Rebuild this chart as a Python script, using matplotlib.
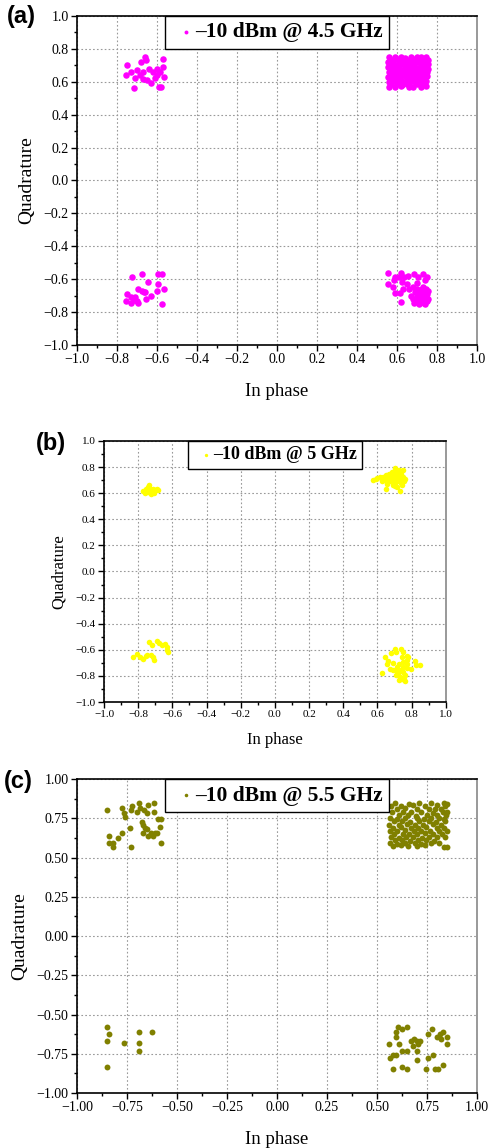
import numpy as np
import matplotlib.pyplot as plt
from matplotlib.ticker import MultipleLocator, AutoMinorLocator, FuncFormatter

plt.rcParams['font.family'] = ['Liberation Serif', 'DejaVu Serif']

# ---- panel (a): -10 dBm @ 4.5 GHz ----
a_ul = [(-0.752, 0.70), (-0.755, 0.64), (-0.71, 0.62), (-0.715, 0.56), (-0.66, 0.75),
        (-0.68, 0.72), (-0.70, 0.67), (-0.67, 0.66), (-0.64, 0.68), (-0.62, 0.66),
        (-0.60, 0.68), (-0.57, 0.74), (-0.57, 0.69), (-0.585, 0.66), (-0.565, 0.63),
        (-0.58, 0.57), (-0.59, 0.57), (-0.63, 0.59), (-0.65, 0.61), (-0.67, 0.615),
        (-0.685, 0.64), (-0.61, 0.62), (-0.73, 0.66), (-0.655, 0.73), (-0.60, 0.64)]
a_ur = [(0.56, 0.75), (0.59, 0.748), (0.62, 0.752), (0.64, 0.746), (0.67, 0.75), (0.70, 0.748), (0.72, 0.752), (0.745, 0.75),
        (0.57, 0.735), (0.60, 0.737), (0.63, 0.733), (0.66, 0.735), (0.69, 0.736), (0.71, 0.734), (0.74, 0.735), (0.755, 0.733),
        (0.555, 0.72), (0.58, 0.722), (0.61, 0.718), (0.65, 0.72), (0.68, 0.721), (0.70, 0.719), (0.73, 0.72), (0.75, 0.722),
        (0.565, 0.705), (0.60, 0.703), (0.62, 0.707), (0.645, 0.705), (0.67, 0.704), (0.72, 0.706), (0.74, 0.705), (0.755, 0.707),
        (0.555, 0.69), (0.585, 0.692), (0.61, 0.688), (0.64, 0.69), (0.66, 0.691), (0.69, 0.689), (0.715, 0.69), (0.745, 0.692),
        (0.57, 0.675), (0.60, 0.677), (0.63, 0.673), (0.655, 0.675), (0.68, 0.676), (0.71, 0.674), (0.73, 0.675), (0.755, 0.677),
        (0.56, 0.66), (0.59, 0.662), (0.615, 0.658), (0.645, 0.66), (0.675, 0.661), (0.70, 0.659), (0.725, 0.66), (0.75, 0.662),
        (0.575, 0.645), (0.60, 0.647), (0.63, 0.643), (0.66, 0.645), (0.685, 0.646), (0.715, 0.644), (0.74, 0.645),
        (0.555, 0.63), (0.585, 0.632), (0.61, 0.628), (0.645, 0.63), (0.67, 0.631), (0.70, 0.629), (0.725, 0.63), (0.75, 0.632),
        (0.565, 0.615), (0.595, 0.617), (0.62, 0.613), (0.655, 0.615), (0.68, 0.616), (0.71, 0.614), (0.735, 0.615),
        (0.56, 0.60), (0.58, 0.602), (0.61, 0.598), (0.64, 0.60), (0.665, 0.601), (0.69, 0.599), (0.72, 0.60), (0.745, 0.602),
        (0.57, 0.585), (0.60, 0.587), (0.625, 0.583), (0.65, 0.585), (0.70, 0.586), (0.73, 0.584),
        (0.56, 0.57), (0.59, 0.568), (0.62, 0.572), (0.66, 0.57), (0.68, 0.568), (0.72, 0.57), (0.745, 0.572)]
a_ll = [(-0.727, -0.589), (-0.677, -0.568), (-0.597, -0.568), (-0.575, -0.568), (-0.643, -0.619),
        (-0.593, -0.629), (-0.563, -0.66), (-0.598, -0.67), (-0.693, -0.66), (-0.677, -0.67),
        (-0.665, -0.68), (-0.632, -0.70), (-0.657, -0.72), (-0.748, -0.69), (-0.732, -0.706),
        (-0.71, -0.71), (-0.698, -0.73), (-0.755, -0.73), (-0.732, -0.747), (-0.693, -0.747),
        (-0.573, -0.749), (-0.717, -0.727), (-0.66, -0.675)]
a_lr = [(0.557, -0.56), (0.557, -0.629), (0.582, -0.645), (0.59, -0.682), (0.615, -0.682),
        (0.618, -0.741), (0.59, -0.585), (0.587, -0.605), (0.612, -0.585), (0.62, -0.56),
        (0.623, -0.619), (0.637, -0.585), (0.657, -0.58), (0.652, -0.629), (0.682, -0.645),
        (0.687, -0.568), (0.707, -0.585), (0.698, -0.621), (0.732, -0.568), (0.752, -0.585),
        (0.74, -0.605), (0.632, -0.662), (0.66, -0.66), (0.67, -0.70), (0.68, -0.72),
        (0.685, -0.745), (0.69, -0.68), (0.70, -0.66), (0.70, -0.70), (0.705, -0.73),
        (0.71, -0.75), (0.715, -0.67), (0.72, -0.69), (0.72, -0.715), (0.725, -0.74),
        (0.73, -0.65), (0.73, -0.70), (0.735, -0.725), (0.74, -0.68), (0.74, -0.75),
        (0.745, -0.66), (0.745, -0.71), (0.75, -0.69), (0.75, -0.735), (0.755, -0.67),
        (0.755, -0.72), (0.69, -0.73), (0.71, -0.70), (0.725, -0.66), (0.735, -0.745)]

# ---- panel (b): -10 dBm @ 5 GHz ----
b_ul = [(-0.77, 0.62), (-0.76, 0.605), (-0.755, 0.63), (-0.745, 0.645), (-0.74, 0.61),
        (-0.735, 0.665), (-0.73, 0.625), (-0.725, 0.59), (-0.72, 0.615), (-0.715, 0.635),
        (-0.71, 0.60), (-0.70, 0.625), (-0.69, 0.63), (-0.685, 0.625), (-0.735, 0.64), (-0.75, 0.615)]
b_ur = [(0.575, 0.70), (0.59, 0.705), (0.60, 0.715), (0.614, 0.725), (0.63, 0.72), (0.625, 0.695),
        (0.64, 0.70), (0.65, 0.74), (0.655, 0.67), (0.66, 0.71), (0.67, 0.75), (0.675, 0.69),
        (0.68, 0.73), (0.685, 0.76), (0.69, 0.665), (0.69, 0.70), (0.695, 0.745), (0.70, 0.795),
        (0.70, 0.72), (0.705, 0.68), (0.71, 0.76), (0.71, 0.705), (0.715, 0.65), (0.72, 0.735),
        (0.72, 0.69), (0.725, 0.775), (0.73, 0.715), (0.73, 0.615), (0.735, 0.675), (0.74, 0.75),
        (0.74, 0.70), (0.745, 0.66), (0.75, 0.78), (0.75, 0.72), (0.755, 0.69), (0.76, 0.705),
        (0.65, 0.63), (0.68, 0.71), (0.70, 0.74), (0.715, 0.72), (0.705, 0.655), (0.725, 0.755)]
b_ll = [(-0.832, -0.653), (-0.809, -0.635), (-0.789, -0.653), (-0.774, -0.668), (-0.754, -0.648),
        (-0.747, -0.637), (-0.735, -0.538), (-0.721, -0.563), (-0.727, -0.640), (-0.715, -0.657),
        (-0.708, -0.678), (-0.688, -0.533), (-0.677, -0.550), (-0.663, -0.563), (-0.643, -0.558),
        (-0.633, -0.576), (-0.630, -0.602), (-0.624, -0.62)]
b_lr = [(0.624, -0.78), (0.643, -0.658), (0.653, -0.709), (0.663, -0.684), (0.682, -0.628),
        (0.702, -0.595), (0.711, -0.62), (0.692, -0.704), (0.673, -0.75), (0.692, -0.755),
        (0.711, -0.755), (0.727, -0.709), (0.735, -0.595), (0.741, -0.653), (0.747, -0.62),
        (0.72, -0.78), (0.73, -0.806), (0.741, -0.826), (0.727, -0.832), (0.75, -0.768),
        (0.76, -0.793), (0.76, -0.837), (0.747, -0.73), (0.77, -0.742), (0.77, -0.678),
        (0.774, -0.645), (0.78, -0.658), (0.77, -0.709), (0.75, -0.69), (0.799, -0.75),
        (0.819, -0.684), (0.825, -0.717), (0.848, -0.717), (0.715, -0.73), (0.735, -0.755),
        (0.755, -0.806), (0.708, -0.793)]

# ---- panel (c): -10 dBm @ 5.5 GHz ----
c_ul = [(-0.852, 0.802), (-0.838, 0.637), (-0.838, 0.594), (-0.818, 0.594), (-0.822, 0.565),
        (-0.793, 0.622), (-0.777, 0.654), (-0.777, 0.817), (-0.765, 0.786), (-0.76, 0.76),
        (-0.735, 0.686), (-0.732, 0.565), (-0.727, 0.828), (-0.732, 0.802), (-0.702, 0.788),
        (-0.688, 0.845), (-0.685, 0.817), (-0.677, 0.728), (-0.668, 0.707), (-0.672, 0.654),
        (-0.663, 0.802), (-0.652, 0.781), (-0.643, 0.834), (-0.66, 0.686), (-0.643, 0.637),
        (-0.632, 0.658), (-0.622, 0.637), (-0.615, 0.845), (-0.615, 0.792), (-0.61, 0.658),
        (-0.602, 0.658), (-0.593, 0.743), (-0.582, 0.743), (-0.585, 0.696), (-0.582, 0.594),
        (-0.652, 0.679)]
c_ur = [(0.59, 0.845), (0.66, 0.842), (0.71, 0.848), (0.77, 0.845), (0.835, 0.85), (0.85, 0.84),
        (0.57, 0.83), (0.62, 0.826), (0.68, 0.833), (0.74, 0.828), (0.80, 0.832), (0.84, 0.826),
        (0.60, 0.81), (0.64, 0.813), (0.70, 0.806), (0.76, 0.812), (0.79, 0.808), (0.82, 0.81),
        (0.575, 0.79), (0.63, 0.787), (0.67, 0.793), (0.72, 0.79), (0.78, 0.786), (0.83, 0.792), (0.85, 0.79),
        (0.61, 0.77), (0.655, 0.773), (0.695, 0.767), (0.75, 0.77), (0.80, 0.774), (0.845, 0.768),
        (0.565, 0.75), (0.60, 0.747), (0.64, 0.753), (0.70, 0.75), (0.735, 0.746), (0.77, 0.752), (0.81, 0.75), (0.835, 0.748),
        (0.585, 0.73), (0.625, 0.733), (0.665, 0.727), (0.71, 0.73), (0.76, 0.734), (0.795, 0.728), (0.84, 0.73),
        (0.56, 0.71), (0.61, 0.707), (0.65, 0.713), (0.69, 0.71), (0.73, 0.706), (0.78, 0.712), (0.82, 0.71),
        (0.58, 0.69), (0.62, 0.693), (0.67, 0.687), (0.705, 0.69), (0.745, 0.694), (0.80, 0.688), (0.835, 0.69),
        (0.565, 0.67), (0.60, 0.667), (0.64, 0.673), (0.685, 0.67), (0.72, 0.666), (0.765, 0.672), (0.81, 0.67), (0.85, 0.668),
        (0.585, 0.65), (0.63, 0.653), (0.66, 0.647), (0.70, 0.65), (0.74, 0.654), (0.78, 0.648), (0.825, 0.65),
        (0.57, 0.63), (0.61, 0.627), (0.645, 0.633), (0.68, 0.63), (0.725, 0.626), (0.76, 0.632), (0.80, 0.63), (0.84, 0.628),
        (0.59, 0.61), (0.625, 0.613), (0.665, 0.607), (0.705, 0.61), (0.745, 0.614), (0.785, 0.608),
        (0.565, 0.59), (0.60, 0.587), (0.64, 0.593), (0.69, 0.59), (0.72, 0.586), (0.77, 0.592), (0.81, 0.59),
        (0.58, 0.575), (0.62, 0.578), (0.655, 0.572), (0.70, 0.575), (0.74, 0.578), (0.835, 0.565), (0.85, 0.566)]
c_ll = [(-0.852, -0.58), (-0.852, -0.671), (-0.838, -0.624), (-0.852, -0.834), (-0.763, -0.684),
        (-0.688, -0.609), (-0.688, -0.684), (-0.688, -0.730), (-0.627, -0.609)]
c_lr = [(0.562, -0.686), (0.565, -0.775), (0.578, -0.849), (0.582, -0.76), (0.595, -0.76),
        (0.595, -0.609), (0.595, -0.641), (0.607, -0.58), (0.61, -0.686), (0.623, -0.594),
        (0.623, -0.73), (0.623, -0.834), (0.652, -0.58), (0.652, -0.73), (0.652, -0.849),
        (0.67, -0.671), (0.685, -0.656), (0.682, -0.70), (0.698, -0.671), (0.698, -0.73),
        (0.698, -0.79), (0.707, -0.686), (0.745, -0.849), (0.757, -0.624), (0.757, -0.775),
        (0.773, -0.594), (0.778, -0.76), (0.79, -0.849), (0.803, -0.849), (0.802, -0.641),
        (0.815, -0.624), (0.818, -0.656), (0.832, -0.609), (0.832, -0.82), (0.848, -0.641),
        (0.848, -0.686), (0.715, -0.671)]

panels = [
    dict(label='(a)', pts=a_ul + a_ur + a_ll + a_lr, color='#ff00ff', s=22,
         legend='\u201310 dBm @ 4.5 GHz', rect=[0.1575, 0.6995, 0.818, 0.2866],
         step=0.2, nd=1, tick_fs=10, xlab_fs=13.5, ylab_fs=14, leg_fs=15.5, xpad=12,
         letter_xy=(0.014, 0.986)),
    dict(label='(b)', pts=b_ul + b_ur + b_ll + b_lr, color='#ffff00', s=16,
         legend='\u201310 dBm @ 5 GHz', rect=[0.2127, 0.3885, 0.699, 0.2274],
         step=0.2, nd=1, tick_fs=8, xlab_fs=12, ylab_fs=12, leg_fs=13, xpad=9,
         letter_xy=(0.074, 0.6135)),
    dict(label='(c)', pts=c_ul + c_ur + c_ll + c_lr, color='#808000', s=18,
         legend='\u201310 dBm @ 5.5 GHz', rect=[0.1575, 0.0479, 0.818, 0.2735],
         step=0.25, nd=2, tick_fs=10, xlab_fs=13.5, ylab_fs=14, leg_fs=15.5, xpad=12,
         letter_xy=(0.008, 0.3195)),
]


def tick_fmt(nd):
    return FuncFormatter(lambda v, pos: f'{v:.{nd}f}'.replace('-', '\u2212')
                         if abs(v) > 1e-9 else f'{0:.{nd}f}')


fig = plt.figure(figsize=(4.89, 11.48), dpi=100)

for p in panels:
    ax = fig.add_axes(p['rect'])
    xy = np.array(p['pts'])
    ax.scatter(xy[:, 0], xy[:, 1], s=p['s'], color=p['color'], linewidths=0,
               label=p['legend'], zorder=3)
    ax.set_xlim(-1, 1)
    ax.set_ylim(-1, 1)
    ax.xaxis.set_major_locator(MultipleLocator(p['step']))
    ax.yaxis.set_major_locator(MultipleLocator(p['step']))
    ax.xaxis.set_minor_locator(AutoMinorLocator(2))
    ax.yaxis.set_minor_locator(AutoMinorLocator(2))
    ax.xaxis.set_major_formatter(tick_fmt(p['nd']))
    ax.yaxis.set_major_formatter(tick_fmt(p['nd']))
    ax.tick_params(which='major', direction='out', length=4, width=1, labelsize=p['tick_fs'],
                   top=False, right=False, pad=2)
    ax.tick_params(which='minor', direction='out', length=2.5, width=1, top=False, right=False)
    ax.grid(True, which='major', color='#999999', linestyle=(0, (1.5, 2)), linewidth=0.8, zorder=0)
    for side in ['left', 'bottom', 'top']:
        ax.spines[side].set_linewidth(1.2)
    ax.spines['right'].set_color('#888888')
    ax.spines['right'].set_linewidth(1.2)
    ax.set_xlabel('In phase', fontsize=p['xlab_fs'], labelpad=p['xpad'])
    ax.set_ylabel('Quadrature', fontsize=p['ylab_fs'], labelpad=6)
    leg = ax.legend(loc='upper center', bbox_to_anchor=(0.5, 1.0), borderaxespad=0,
                    prop={'family': 'Liberation Serif', 'weight': 'bold', 'size': p['leg_fs']},
                    fancybox=False, framealpha=1, edgecolor='black', handlelength=1.4,
                    handletextpad=-0.3, borderpad=0.3, markerscale=0.6)
    leg.get_frame().set_linewidth(1.0)
    fig.text(p['letter_xy'][0], p['letter_xy'][1], p['label'], family='Liberation Sans',
             weight='bold', fontsize=17, va='center', ha='left')

fig.savefig('out.png', dpi=100)
